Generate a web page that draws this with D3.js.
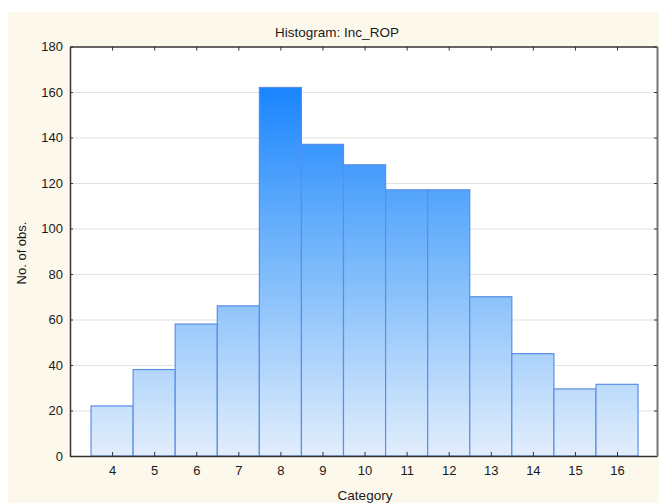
<!DOCTYPE html>
<html><head><meta charset="utf-8">
<script src="https://cdn.jsdelivr.net/npm/d3@7"></script>
<style>body{margin:0;background:#fff}svg{display:block}text{font-family:"Liberation Sans",Arial,sans-serif;fill:#1a1a1a}</style>
</head><body>
<script>
const categories = [4,5,6,7,8,9,10,11,12,13,14,15,16];
const counts = [22,38,58,66,162,137,128,117,117,70,45,29.5,31.5];
const yTicks = [0,20,40,60,80,100,120,140,160,180];
const title = "Histogram: Inc_ROP";
const xLabel = "Category";
const yLabel = "No. of obs.";

(function () {
const W = 659, H = 504;
const svg = d3.select("body").append("svg").attr("width", W).attr("height", H);
svg.append("rect").attr("x", 8).attr("y", 12).attr("width", W - 8).attr("height", H - 13).attr("fill", "#fdf8ec");

const L = 70, R = 657, T = 46.5, B = 456;
const x = d3.scaleLinear().domain([3, 16.95]).range([L, R]);
const y = d3.scaleLinear().domain([0, 180]).range([B, T]);

svg.append("rect").attr("x", L).attr("y", T).attr("width", R - L).attr("height", B - T).attr("fill", "#fff");

const defs = svg.append("defs");
const g = defs.append("linearGradient").attr("id", "bg").attr("gradientUnits", "userSpaceOnUse")
  .attr("x1", 0).attr("x2", 0).attr("y1", y(165)).attr("y2", y(0));
g.append("stop").attr("offset", 0).attr("stop-color", "#1783ff");
g.append("stop").attr("offset", 0.45).attr("stop-color", "#72b5fb");
g.append("stop").attr("offset", 1).attr("stop-color", "#e2eefc");

svg.append("g").selectAll("line").data(yTicks.filter(d => d > 0 && d < 180)).join("line")
  .attr("x1", L).attr("x2", R).attr("y1", d => y(d) + 0.5).attr("y2", d => y(d) + 0.5)
  .attr("stroke", "#e2e2e2").attr("stroke-width", 1.2);

svg.append("g").selectAll("rect").data(categories).join("rect")
  .attr("x", (d) => x(d - 0.5))
  .attr("y", (d, i) => y(counts[i]))
  .attr("width", x(1.5) - x(0.5))
  .attr("height", (d, i) => y(0) - y(counts[i]))
  .attr("fill", "url(#bg)")
  .attr("stroke", "#5b8ee6").attr("stroke-width", 1.2);

const axB = d3.axisBottom(x).tickValues(categories).tickSize(-4).tickPadding(10).tickSizeOuter(0);
const gb = svg.append("g").attr("transform", `translate(0,${B})`).call(axB);
const axT = d3.axisTop(x).tickValues(categories).tickSize(-4).tickFormat("").tickSizeOuter(0);
const gt = svg.append("g").attr("transform", `translate(0,${T})`).call(axT);
const axL = d3.axisLeft(y).tickValues(yTicks).tickSize(-3).tickPadding(7).tickSizeOuter(0);
const gl = svg.append("g").attr("transform", `translate(${L},0)`).call(axL);
const axR = d3.axisRight(y).tickValues(yTicks).tickSize(-3).tickFormat("").tickSizeOuter(0);
const gr = svg.append("g").attr("transform", `translate(${R},0)`).call(axR);
[gb, gt, gl, gr].forEach(a => {
  a.selectAll(".domain").attr("stroke", "#333").attr("stroke-width", 1.5);
  a.selectAll(".tick line").attr("stroke", "#333");
  a.selectAll("text").style("font-family", '"Liberation Sans",Arial,sans-serif').style("font-size", "13px").attr("fill", "#1a1a1a");
});
gr.select(".domain").attr("stroke", "#777").attr("stroke-width", 2);

svg.append("text").attr("x", 337).attr("y", 37).attr("text-anchor", "middle").style("font-size", "13.5px").text(title);
svg.append("text").attr("x", 365).attr("y", 500).attr("text-anchor", "middle").style("font-size", "13.5px").text(xLabel);
svg.append("text").attr("transform", `translate(26,253) rotate(-90)`).attr("text-anchor", "middle").style("font-size", "13px").text(yLabel);
})();
</script>
</body></html>
